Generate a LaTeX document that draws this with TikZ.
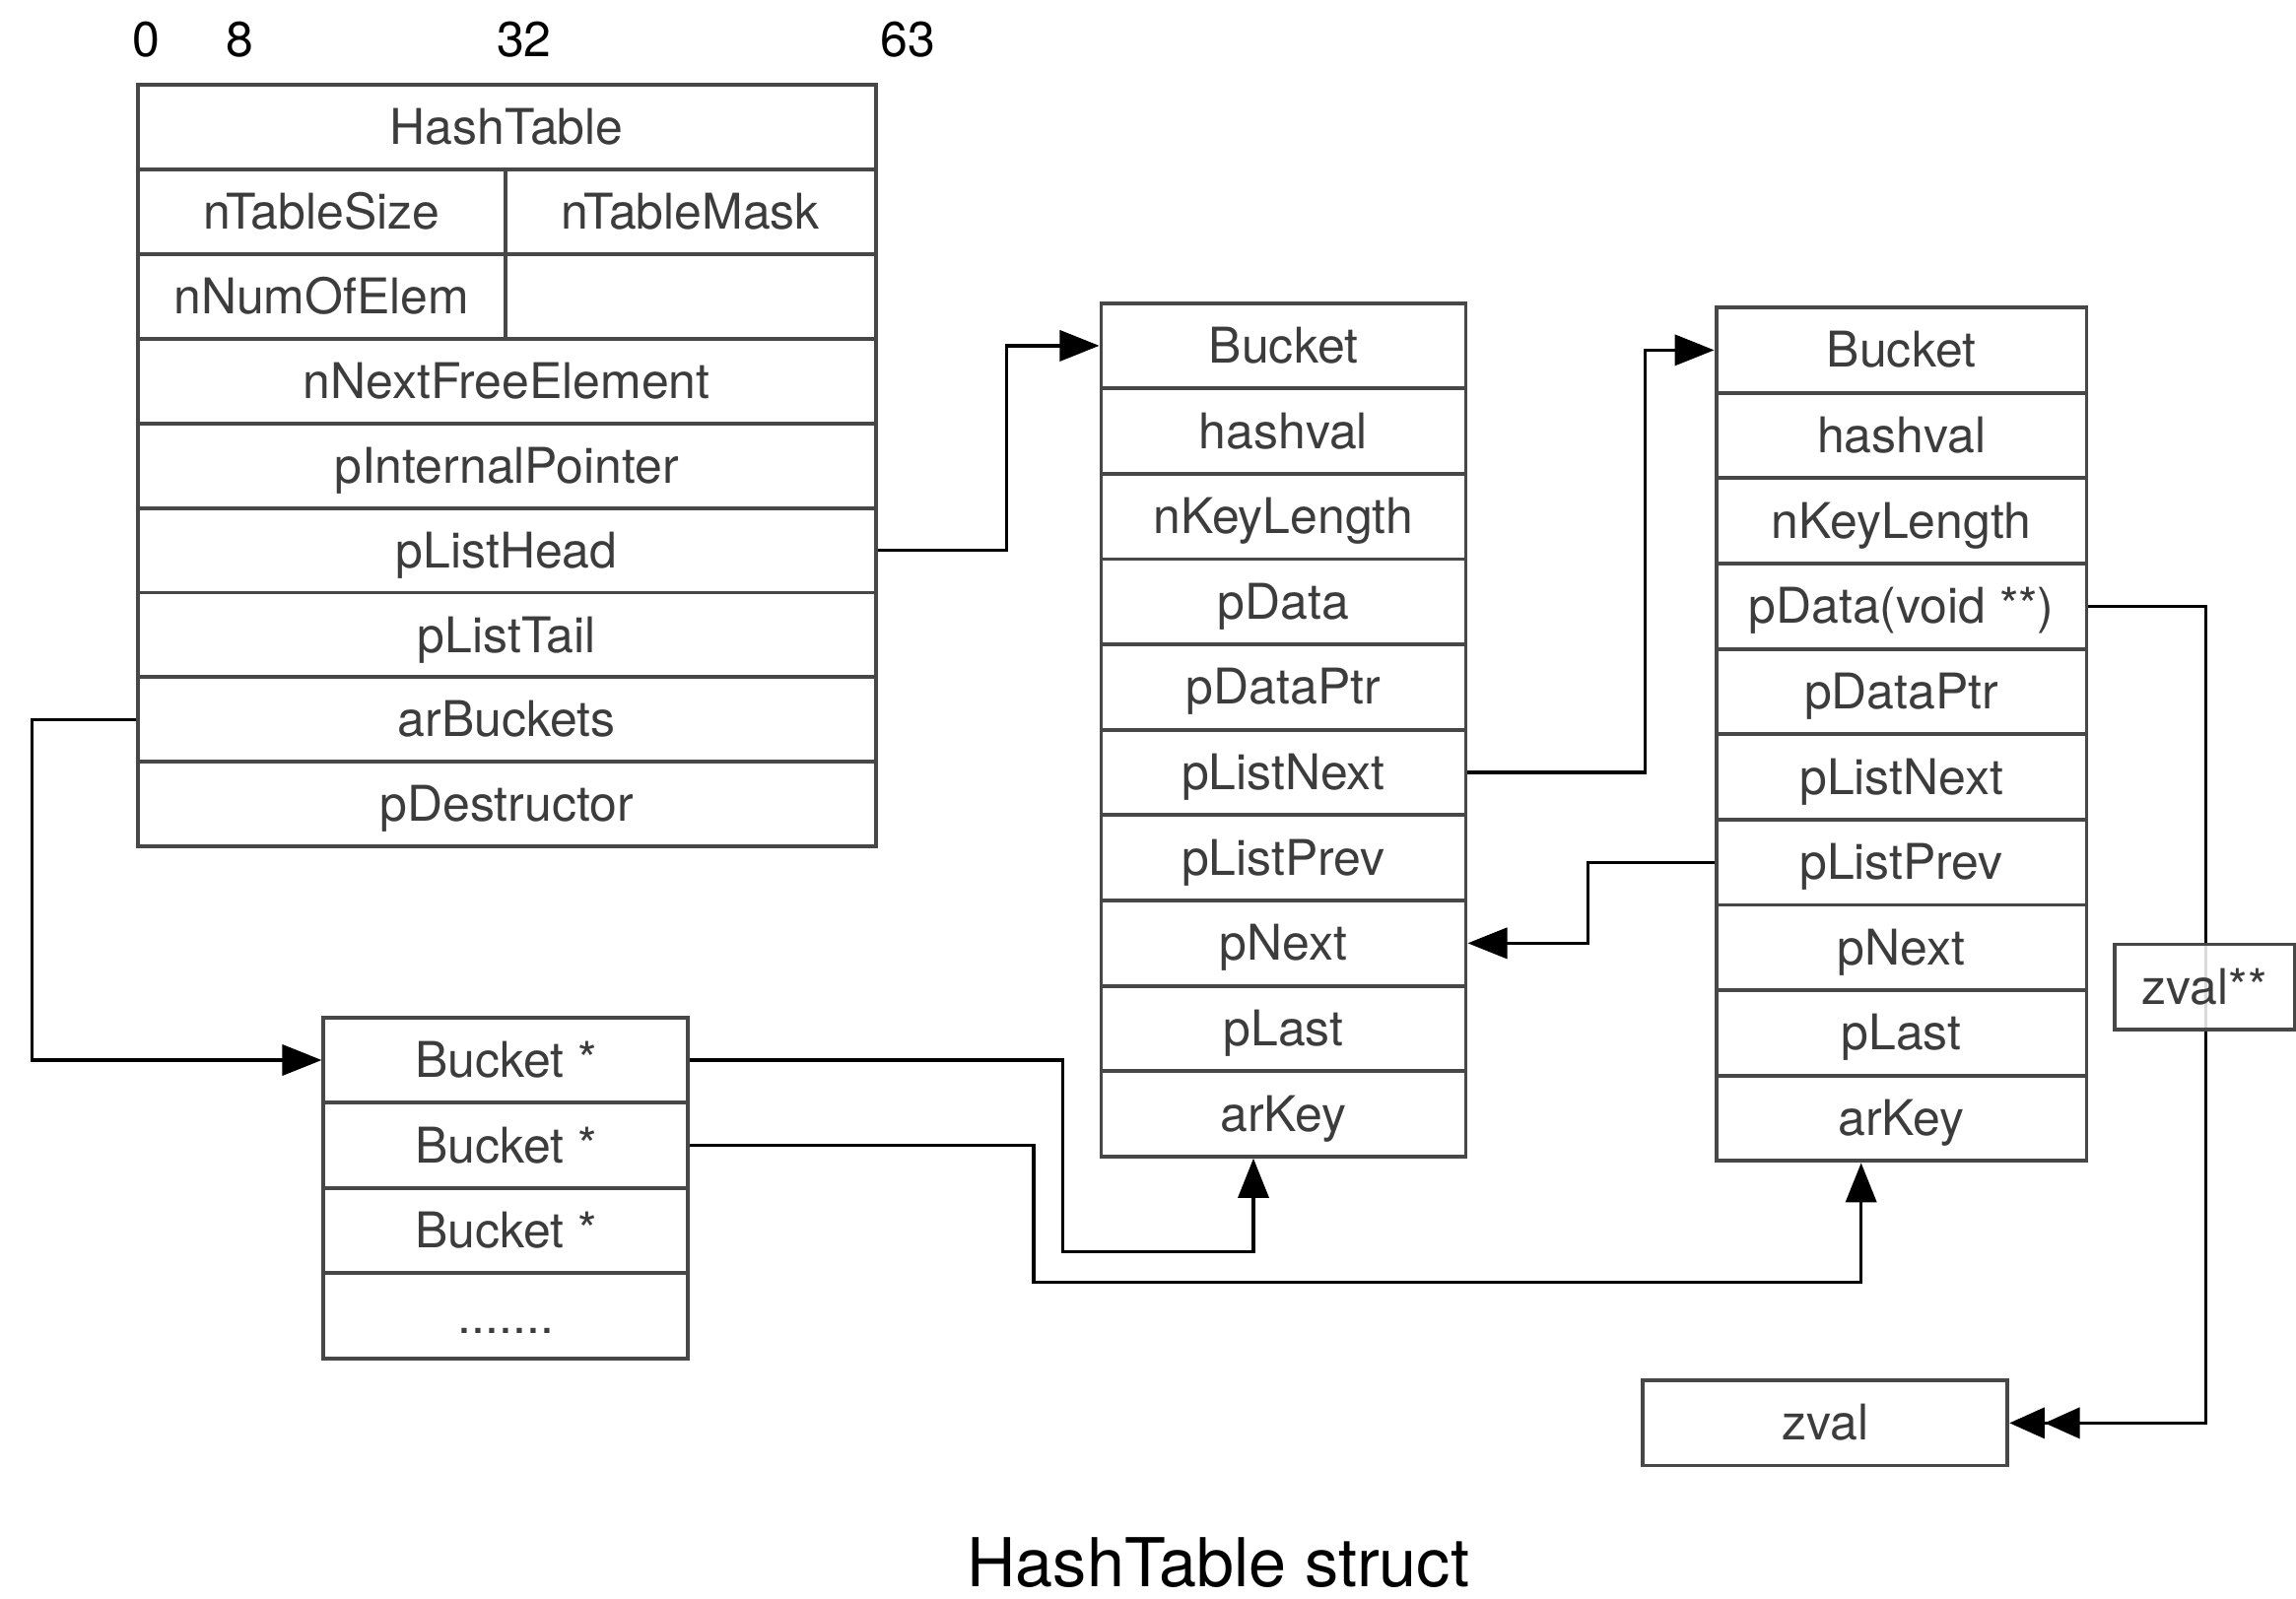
\documentclass[tikz,border=0pt]{standalone}
\usepackage{fontspec}
\setmainfont{TeX Gyre Heros}
\usetikzlibrary{arrows.meta,calc}
\definecolor{boxgray}{HTML}{474747}
\definecolor{txtgray}{HTML}{3C3C3C}
\begin{document}
\begin{tikzpicture}[x=0.5pt,y=-0.5pt,
  cell/.style={draw=boxgray,line width=1.3pt,inner sep=0pt,text height=11.8pt,text depth=0pt,
    text=txtgray,font=\fontsize{16.8}{18}\selectfont},
  htrow/.style={cell,minimum width=252pt,minimum height=28.9pt},
  htleft/.style={cell,minimum width=125.5pt,minimum height=28.9pt},
  htright/.style={cell,minimum width=126.5pt,minimum height=28.9pt},
  bkone/.style={cell,minimum width=124.5pt,minimum height=29.15pt},
  bktwo/.style={cell,minimum width=126.5pt,minimum height=29.15pt},
  arrrow/.style={cell,minimum width=124.5pt,minimum height=29.1pt},
  numlabel/.style={anchor=base,inner sep=0pt,font=\fontsize{16.8}{18}\selectfont},
  conn/.style={draw=black,line width=1.1pt,-{Triangle[length=13.5pt,width=10.5pt]}},
  conntwo/.style={draw=black,line width=1.1pt,-{Triangle[length=12pt,width=10.5pt]Triangle[length=12pt,width=10.5pt]}}]
\useasboundingbox (0,0) rectangle (1568,1092);

% bit offsets
\node[numlabel] (n0) at (100,39) {0};
\node[numlabel] (n8) at (164,39) {8};
\node[numlabel] (n32) at (358,39) {32};
\node[numlabel] (n63) at (620,39) {63};

% HashTable
\node[htrow] (hTitle) at (346,86.9) {HashTable};
\node[htleft] (hSize) at (219.5,144.7) {nTableSize};
\node[htright] (hMask) at (471.5,144.7) {nTableMask};
\node[htleft] (hNum) at (219.5,202.5) {nNumOfElem};
\node[htright] (hEmpty) at (471.5,202.5) {};
\node[htrow] (hFree) at (346,260.3) {nNextFreeElement};
\node[htrow] (hInt) at (346,318.1) {pInternalPointer};
\node[htrow] (hHead) at (346,375.9) {pListHead};
\node[htrow] (hTail) at (346,433.7) {pListTail};
\node[htrow] (hBuckets) at (346,491.5) {arBuckets};
\node[htrow] (hDestr) at (346,549.3) {pDestructor};

% Bucket 1
\foreach \n/\t [count=\i from 0] in {b1t/Bucket,b1h/hashval,b1kl/nKeyLength,b1d/pData,b1dp/pDataPtr,b1ln/pListNext,b1lp/pListPrev,b1n/pNext,b1l/pLast,b1k/arKey}
  \node[bkone] (\n) at (876.5,{236.15+58.3*\i}) {\t};

% Bucket 2
\foreach \n/\t [count=\i from 0] in {b2t/Bucket,b2h/hashval,b2kl/nKeyLength,b2d/pData(void **),b2dp/pDataPtr,b2ln/pListNext,b2lp/pListPrev,b2n/pNext,b2l/pLast,b2k/arKey}
  \node[bktwo] (\n) at (1298.5,{239.15+58.3*\i}) {\t};

% Bucket* array
\node[arrrow] (a1) at (345.5,724.1) {Bucket *};
\node[arrrow] (a2) at (345.5,782.4) {Bucket *};
\node[arrrow] (a3) at (345.5,840.6) {Bucket *};
\node[arrrow] (a4) at (345.5,898.9) {.......};

% zval
\node[cell,minimum width=124.5pt,minimum height=29pt] (zval) at (1246.5,972) {zval};

% connectors
\draw[conn] (hHead.east) -- ++(88,0) |- (b1t.west);
\draw[conn] (hBuckets.west) -- ++(-71,0) |- (a1.west);
\draw[conn] (a1.east) -| (726,855) -| ($(b1k.south)+(-20.5,0)$);
\draw[conn] (a2.east) -| (706,876) -| ($(b2k.south)+(-27.5,0)$);
\draw[conn] (b1ln.east) -- ++(121,0) |- (b2t.west);
\draw[conn] (b2lp.west) -- ++(-86,0) |- (b1n.east);
\draw[conntwo] (b2d.east) -- ++(80,0) |- (zval.east);

% zval** label box over the line
\node[cell,minimum width=61.5pt,minimum height=29pt,fill=white,fill opacity=0.85,text opacity=1] (zvalpp) at (1505.5,674) {zval**};

% title
\node[anchor=base,inner sep=0pt,font=\fontsize{23}{26}\selectfont] (title) at (832,1084) {HashTable struct};
\end{tikzpicture}
\end{document}
